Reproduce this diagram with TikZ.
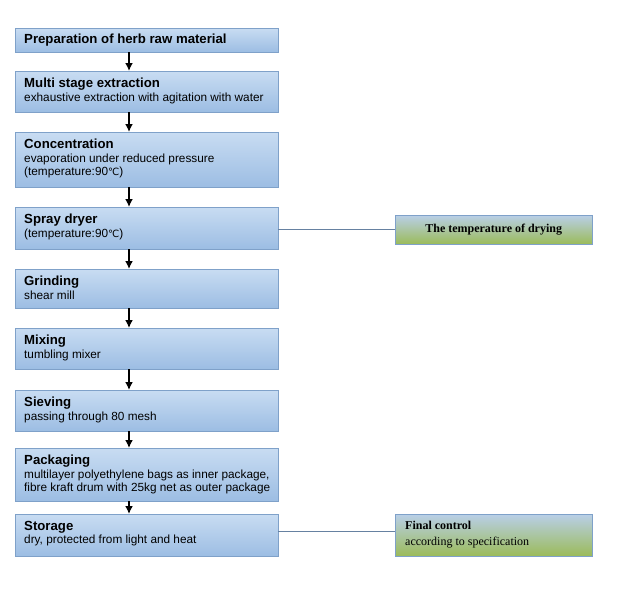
\documentclass[tikz,border=0pt]{standalone}
\usepackage{fontspec}
\setmainfont{Liberation Sans}
\newfontfamily\serifx{Liberation Serif}
\newfontfamily\dvs{DejaVu Sans}
\usetikzlibrary{arrows.meta}
\definecolor{btop}{HTML}{C8DCF2}
\definecolor{bbot}{HTML}{9CBDE3}
\definecolor{bdr}{HTML}{7FA1C9}
\definecolor{gtop}{HTML}{B9CFE8}
\definecolor{gbot}{HTML}{9BBB59}
\newcommand{\degc}{{\dvs\fontsize{10}{12}\selectfont ℃}}
\begin{document}
\begin{tikzpicture}[x=1pt,y=-1pt,
  stepb/.style={draw=bdr, top color=btop, bottom color=bbot, inner sep=0, anchor=north west},
  greenb/.style={draw=bdr, top color=gtop, bottom color=gbot, inner sep=0, anchor=north west},
  txt/.style={anchor=north west, align=left, inner sep=0, font=\fontsize{11.8}{13.5}\selectfont},
  arr/.style={-{Latex[length=8pt,width=8pt]}, line width=2pt},
  conn/.style={draw=bdr!80!black, line width=0.5pt}]
\useasboundingbox (0,0) rectangle (628,597);
\newcommand{\stepbox}[5]{%
  \node[stepb, minimum width=263pt, minimum height={#3-#2}] (#1) at (15,#2) {};
  \node[txt] at (24,#2+7) {{\fontsize{13.2}{15}\selectfont\bfseries #4}\\ #5};}
\node[stepb, minimum width=263pt, minimum height=24pt] (b1) at (15,28) {};
\node[txt] at (24,34) {\fontsize{13.2}{15}\selectfont\bfseries Preparation of herb raw material};
\stepbox{b2}{71}{112}{Multi stage extraction}{exhaustive extraction with agitation with water}
\stepbox{b3}{132}{187}{Concentration}{evaporation under reduced pressure\\(temperature:90\degc)}
\stepbox{b4}{207}{249}{Spray dryer}{(temperature:90\degc)}
\stepbox{b5}{269}{308}{Grinding}{shear mill}
\stepbox{b6}{328}{369}{Mixing}{tumbling mixer}
\stepbox{b7}{390}{431}{Sieving}{passing through 80 mesh}
\stepbox{b8}{448}{501}{Packaging}{multilayer polyethylene bags as inner package,\\fibre kraft drum with 25kg net as outer package}
\stepbox{b9}{514}{556}{Storage}{dry, protected from light and heat}
\foreach \a/\b in {b1/b2,b2/b3,b3/b4,b4/b5,b5/b6,b6/b7,b7/b8,b8/b9}
  \draw[arr] (\a.south -| 129,0) -- (\b.north -| 129,0);
\node[greenb, minimum width=197pt, minimum height=29pt] (g1) at (395,215) {};
\node[font=\serifx\fontsize{12}{14}\selectfont\bfseries] at (g1.center) {The temperature of drying};
\node[greenb, minimum width=197pt, minimum height=42pt] (g2) at (395,514) {};
\node[txt, font=\serifx\fontsize{12}{16}\selectfont] at (405,521) {\textbf{Final control}\\according to specification};
\draw[conn] (b4.east |- 0,229) -- (g1.west |- 0,229);
\draw[conn] (b9.east |- 0,531) -- (g2.west |- 0,531);
\end{tikzpicture}
\end{document}
